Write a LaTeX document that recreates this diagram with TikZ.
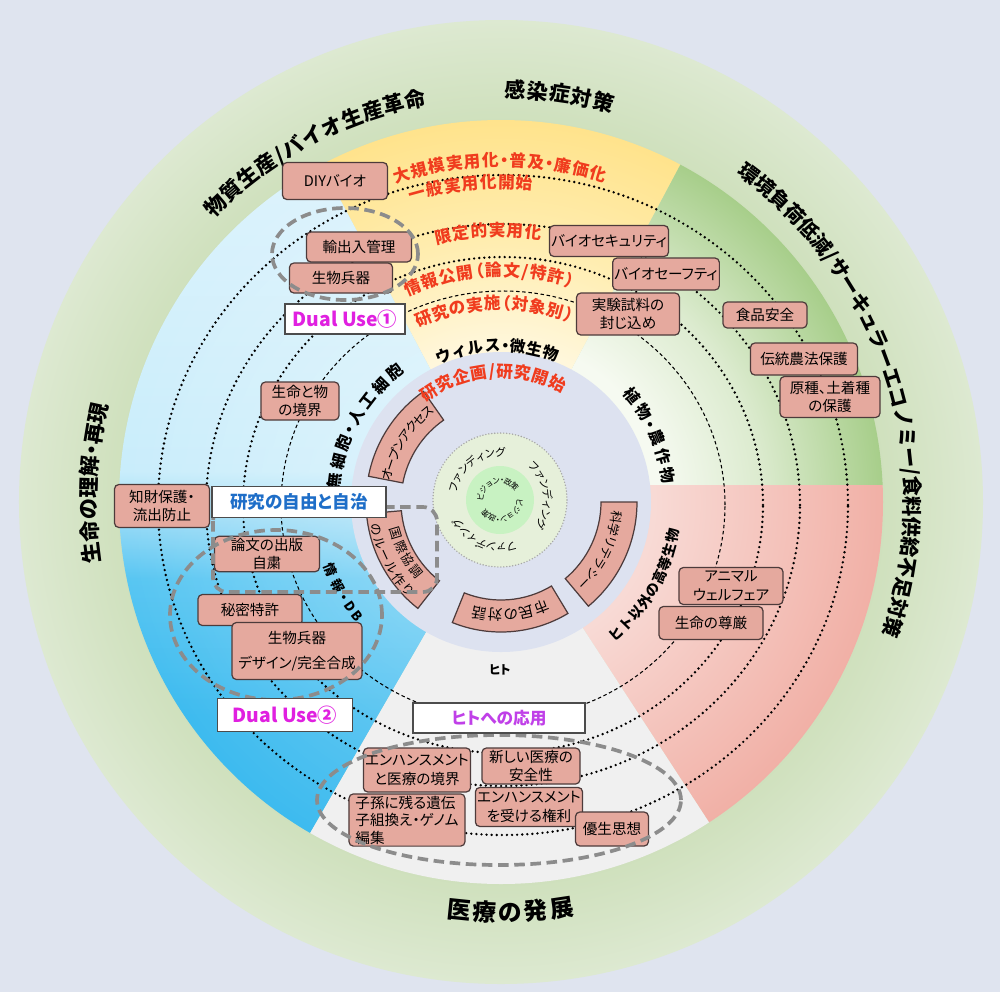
\documentclass[tikz,border=0pt]{standalone}
\usepackage{fontspec}
\setmainfont{Noto Sans CJK JP}[RawFeature=+palt]
\usetikzlibrary{fadings}
\definecolor{bg}{HTML}{DFE4EF}
\definecolor{ring1}{HTML}{CDDFBA}
\definecolor{ring2}{HTML}{DDE9D1}
\definecolor{yl1}{HTML}{FFF7DC}
\definecolor{yl2}{HTML}{FFEDB0}
\definecolor{yl3}{HTML}{FFE38C}
\definecolor{gr1}{HTML}{F6FAF1}
\definecolor{gr2}{HTML}{DCEBCF}
\definecolor{gr3}{HTML}{A7CE8A}
\definecolor{pk1}{HTML}{F8DAD5}
\definecolor{pk3}{HTML}{F1B0A6}
\definecolor{gy}{HTML}{F0F0F0}
\definecolor{bl1}{HTML}{3DBBEF}
\definecolor{bl2}{HTML}{58C6F2}
\definecolor{bl3}{HTML}{93D9F6}
\definecolor{bl4}{HTML}{C9EDFB}
\definecolor{bl5}{HTML}{E0F4FC}
\definecolor{lav}{HTML}{DDE2F0}
\definecolor{pgreen}{HTML}{E6F0DA}
\definecolor{bgreen}{HTML}{C8F2C2}
\definecolor{boxpink}{HTML}{E5A99E}
\definecolor{boxline}{HTML}{4D3B3B}
\definecolor{redtxt}{HTML}{F03C1E}
\definecolor{bluetxt}{HTML}{1E6EC8}
\definecolor{magtxt}{HTML}{E020E0}
\definecolor{purtxt}{HTML}{C040E8}
\definecolor{dashgray}{HTML}{8C8C8C}
\pgfdeclareradialshading{ringsh}{\pgfpoint{0bp}{0bp}}{color(0bp)=(ring1); color(19bp)=(ring1); color(25bp)=(ring2); color(50bp)=(ring2)}
\pgfdeclareradialshading{yelsh}{\pgfpoint{0bp}{0bp}}{color(0bp)=(yl1); color(10bp)=(yl1); color(17bp)=(yl2); color(25bp)=(yl3); color(50bp)=(yl3)}
\pgfdeclareradialshading{grnsh}{\pgfpoint{0bp}{0bp}}{color(0bp)=(gr1); color(10.5bp)=(gr1); color(17bp)=(gr2); color(25bp)=(gr3); color(50bp)=(gr3)}
\pgfdeclareradialshading{pnksh}{\pgfpoint{0bp}{0bp}}{color(0bp)=(pk1); color(10bp)=(pk1); color(25bp)=(pk3); color(50bp)=(pk3)}
\pgfdeclareverticalshading{bluesh}{100bp}{color(0bp)=(bl1); color(36bp)=(bl1); color(45bp)=(bl2); color(48.5bp)=(bl3); color(52bp)=(bl4); color(75bp)=(bl5); color(100bp)=(bl5)}
\tikzfading[name=cwfade, inner color=transparent!55, outer color=transparent!100]

% narrow characters get a smaller slot along the arc
\edef\arcNSlash{/}
\edef\arcNDot{・}
\edef\arcNParL{（}
\edef\arcNParR{）}
\edef\arcND{D}
\edef\arcNB{B}
\newcommand\arcweight{%
  \edef\arcTmp{\archar}%
  \def\arcW{1}%
  \ifx\arcTmp\arcNSlash\def\arcW{0.45}\fi
  \ifx\arcTmp\arcNDot\def\arcW{0.5}\fi
  \ifx\arcTmp\arcNParL\def\arcW{0.6}\fi
  \ifx\arcTmp\arcNParR\def\arcW{0.6}\fi
  \ifx\arcTmp\arcND\def\arcW{0.65}\fi
  \ifx\arcTmp\arcNB\def\arcW{0.65}\fi}
\newcount\arcid
% #1 style, #2 radius, #3 centre angle, #4 step, #5 dir (1 = clockwise tops out, -1 = ccw tops in), #6 list
\newcommand\arctext[6]{%
  \global\advance\arcid by 1
  \gdef\arcL{0}\gdef\arcPW{-1}%
  \foreach \archar in {#6}{\arcweight
    \pgfmathsetmacro\arcT{\arcPW<0 ? 0 : \arcL+(\arcPW+\arcW)/2}%
    \global\let\arcL\arcT \global\let\arcPW\arcW}%
  \gdef\arcS{0}\gdef\arcPW{-1}%
  \foreach \archar [count=\arci] in {#6}{\arcweight
    \pgfmathsetmacro\arcT{\arcPW<0 ? 0 : \arcS+(\arcPW+\arcW)/2}%
    \global\let\arcS\arcT \global\let\arcPW\arcW
    \pgfmathsetmacro\arcang{#3+#5*(\arcL/2-\arcS)*#4}%
    \pgfmathsetmacro\arcrot{\arcang-#5*90}%
    \node[#1,rotate=\arcrot] (t\the\arcid-\arci) at (\arcang:#2) {\archar};%
  }%
}
\newcommand\arcbox[4]{%
  \filldraw[arcboxst] ({#1-#2}:#3) arc[start angle={#1-#2}, end angle={#1+#2}, radius=#3]
    -- ({#1+#2}:#4) arc[start angle={#1+#2}, end angle={#1-#2}, radius=#4] -- cycle;}
\newcommand\pbox[7][]{\node[pboxst, minimum width={#5*0.02cm}, minimum height={#6*0.02cm}, #1] (#2) at (#3,#4) {#7};}

\begin{document}
\begin{tikzpicture}[x=0.02cm, y=0.02cm,
  chr/.style={inner sep=0pt, text height=0.86em, text depth=0.14em},
  outer/.style={chr, font=\fontsize{12}{12}\selectfont\bfseries},
  outerm/.style={chr, font=\fontsize{11.5}{11.5}\selectfont\bfseries},
  outerbig/.style={chr, font=\fontsize{13.5}{13.5}\selectfont\bfseries},
  redl/.style={chr, text=redtxt, font=\fontsize{9.5}{9.5}\selectfont\bfseries},
  blk/.style={chr, font=\fontsize{9}{9}\selectfont\bfseries},
  blks/.style={chr, font=\fontsize{8}{8}\selectfont\bfseries},
  blkxs/.style={chr, font=\fontsize{7.5}{7.5}\selectfont\bfseries},
  fund/.style={chr, font=\fontsize{6.2}{6.2}\selectfont},
  vis/.style={chr, font=\fontsize{4.5}{4.5}\selectfont},
  arct/.style={chr, font=\fontsize{8.3}{8.3}\selectfont},
  arcts/.style={chr, font=\fontsize{7.2}{7.2}\selectfont},
  arcboxst/.style={fill=boxpink, draw=boxline, line width=0.7pt},
  pboxst/.style={fill=boxpink, draw=boxline, line width=0.7pt, rounded corners=2.5pt,
    inner sep=1pt, align=center, font=\fontsize{8.3}{10.5}\selectfont},
  wbox/.style={fill=white, draw=black!70, line width=0.6pt, inner sep=1pt},
  dotline/.style={line width=1.5pt, dash pattern=on 0pt off 2.9pt, line cap=round},
  dashline/.style={line width=0.6pt, dash pattern=on 2pt off 1.5pt},
  graydash/.style={draw=dashgray, line width=2.1pt, dash pattern=on 6pt off 3.2pt}]
\useasboundingbox (-501,-490) rectangle (499,502);
\fill[bg] (-501,-490) rectangle (499,502);
% outer ring
\shade[shading=ringsh] (0,0) circle (482);
% sectors
\begin{scope}
  \clip (0,0) -- (62:800) arc[start angle=62, end angle=118, radius=800] -- cycle;
  \shade[shading=yelsh] (0,0) circle (382);
\end{scope}
\begin{scope}
  \clip (0,17) -- (800,17) -- (62:800) -- (0,0) -- cycle;
  \shade[shading=grnsh] (0,0) circle (382);
\end{scope}
\begin{scope}
  \clip (0,17) -- (800,17) -- (-57:800) -- (0,0) -- cycle;
  \shade[shading=pnksh] (0,0) circle (382);
\end{scope}
\fill[gy] (0,0) -- (-57:382) arc[start angle=-57, end angle=-120, radius=382] -- cycle;
\begin{scope}
  \clip (0,0) circle (382);
  \clip (0,0) -- (118:800) arc[start angle=118, end angle=240, radius=800] -- cycle;
  \shade[shading=bluesh] (-382,-382) rectangle (0,382);
  \fill[white, path fading=cwfade] (0,0) circle (382);
\end{scope}
% lavender disc
\fill[lav] (0,0) circle (150);
% dotted circles
\draw[dotline] (2,-3) ellipse [x radius=345, y radius=330];
\draw[dotline] (2,-3) ellipse [x radius=297, y radius=281];
\draw[dotline] (2,-3) ellipse [x radius=260, y radius=248];
\draw[dashline] (2,-3) ellipse [x radius=222, y radius=214];
% inner circles
\begin{scope}[shift={(-1,2)}]
  \fill[pgreen] (0,0) circle (67);
  \draw[black!35, line width=0.9pt, dash pattern=on 0pt off 1.7pt, line cap=round] (0,0) circle (67);
  \fill[bgreen] (0,0) circle (34);
  \arctext{fund}{50}{127}{12.4}{1}{フ,ァ,ン,デ,ィ,ン,グ}
  \arctext{fund}{50}{7}{12.4}{1}{フ,ァ,ン,デ,ィ,ン,グ}
  \arctext{fund}{50}{-113}{12.4}{1}{フ,ァ,ン,デ,ィ,ン,グ}
  \arctext{vis}{23}{107}{23.5}{1}{ビ,ジ,ョ,ン,・,政,策}
  \arctext{vis}{23}{-73}{23.5}{1}{ビ,ジ,ョ,ン,・,政,策}
\end{scope}
% curved boxes in the inner ring
\arcbox{147}{22}{100}{135}
\arcbox{208.5}{23.5}{100}{135}
\arcbox{274.5}{26.5}{98}{130}
\arcbox{-25}{25}{100}{136}
\arctext{arcts}{118}{148}{5.3}{1}{オ,ー,プ,ン,ア,ク,セ,ス}
\arctext{arct}{114}{275}{8}{1}{市,民,の,対,話}
\arctext{arcts}{118}{-26}{6.1}{1}{科,学,リ,テ,ラ,シ,ー}
\arctext{arcts}{108}{208}{7.5}{-1}{国,際,協,調}
\arctext{arcts}{126}{208}{6.2}{-1}{の,ル,ー,ル,作,り}
% outer ring labels
\arctext{outer}{410}{118}{3.06}{1}{物,質,生,産,/,バ,イ,オ,生,産,革,命}
\arctext{outer}{411}{81.8}{3.1}{1}{感,染,症,対,策}
\arctext{outerm}{410}{17.6}{2.84}{1}{環,境,負,荷,低,減,/,サ,ー,キ,ュ,ラ,ー,エ,コ,ノ,ミ,ー,/,食,料,供,給,不,足,対,策}
\arctext{outerbig}{413}{-88.7}{3.6}{-1}{医,療,の,発,展}
\arctext{outer}{411}{177.3}{3.0}{1}{生,命,の,理,解,・,再,現}
% red stage labels
\arctext{redl}{342}{90.2}{3.04}{1}{大,規,模,実,用,化,・,普,及,・,廉,価,化}
\arctext{redl}{320}{95.5}{3.25}{1}{一,般,実,用,化,開,始}
\arctext{redl}{272}{92.7}{3.8}{1}{限,定,的,実,用,化}
\arctext{redl}{232}{92.5}{4.5}{1}{情,報,公,開,（,論,文,/,特,許,）}
\arctext{redl}{199}{91.5}{5.1}{1}{研,究,の,実,施,（,対,象,別,）}
\arctext{redl}{131}{93.9}{7.9}{1}{研,究,企,画,/,研,究,開,始}
% black sector labels
\arctext{blk}{157}{91.5}{6.2}{1}{ウ,ィ,ル,ス,・,微,生,物}
\arctext{blk}{168}{151}{6.7}{1}{無,細,胞,・,人,工,細,胞}
\arctext{blk}{169}{24}{6.6}{1}{植,物,・,農,作,物}
\arctext{blks}{174}{-30}{4.7}{-1}{ヒ,ト,以,外,の,高,等,生,物}
\arctext{blkxs}{182}{210}{5.6}{-1}{情,報,・,D,B}
\node[chr, font=\fontsize{7}{7}\selectfont\bfseries] (hitolbl) at (-1,-166) {ヒト};
% rounded boxes
\pbox{diy}{-166}{321}{105}{37}{DIYバイオ}
\pbox{yushutsu}{-142}{255}{105}{30}{輸出入管理}
\pbox{heiki1}{-160}{224}{103}{30}{生物兵器}
\pbox{biosec}{108}{261}{119}{31}{バイオセキュリティ}
\pbox{biosaf}{165}{228}{103}{32}{バイオセーフティ}
\pbox{fuji}{127}{188}{103}{42}{実験試料の\\封じ込め}
\pbox{food}{264}{187}{84}{26}{食品安全}
\pbox{dento}{303}{143}{107}{32}{伝統農法保護}
\pbox{genshu}{329}{105}{100}{41}{原種、土着種\\の保護}
\pbox{seimei}{-201}{101}{78}{38}{生命と物\\の境界}
\pbox{chizai}{-339}{-4}{95}{43}{知財保護・\\流出防止}
\pbox{ronbun}{-234}{-52}{105}{32}{論文の出版\\自粛}
\pbox{himitsu}{-251}{-108}{104}{31}{秘密特許}
\pbox[font=\fontsize{8.3}{14.5}\selectfont]{heiki2}{-204}{-149}{130}{57}{生物兵器\\デザイン/完全合成}
\pbox{enh1}{-84}{-268}{105}{44}{エンハンスメント\\と医療の境界}
\pbox{shin}{30}{-264}{98}{36}{新しい医療の\\安全性}
\pbox[align=left, font=\fontsize{8.3}{10}\selectfont]{shison}{-94}{-318}{116}{50}{子孫に残る遺伝\\子組換え・ゲノム\\編集}
\pbox{enh2}{28}{-305}{105}{39}{エンハンスメント\\を受ける権利}
\pbox{yusei}{111}{-327}{73}{34}{優生思想}
\pbox{animal}{230}{-84}{104}{37}{アニマル\\ウェルフェア}
\pbox{songen}{210}{-121}{104}{33}{生命の尊厳}
% dashed groupings
\draw[graydash] (-156,248) ellipse [x radius=73, y radius=46];
\draw[graydash] (-225,-113) ellipse [x radius=106, y radius=85];
\draw[graydash, rounded corners=8pt] (-288,-5) rectangle (-64,-90);
\draw[graydash] (-2,-298) ellipse [x radius=182, y radius=65];
% white label boxes
\node[wbox, minimum width={174*0.02cm}, minimum height={31*0.02cm}, text=bluetxt, font=\fontsize{10}{10}\selectfont\bfseries] (jiyu) at (-202,0) {研究の自由と自治};
\node[wbox, minimum width={120*0.02cm}, minimum height={30*0.02cm}, text=magtxt, font=\fontsize{11}{11}\selectfont\bfseries] (du1) at (-156,183) {Dual Use①};
\node[wbox, minimum width={135*0.02cm}, minimum height={33*0.02cm}, text=magtxt, font=\fontsize{11}{11}\selectfont\bfseries] (du2) at (-216,-213) {Dual Use②};
\node[wbox, minimum width={172*0.02cm}, minimum height={30*0.02cm}, text=purtxt, font=\fontsize{9.5}{9.5}\selectfont\bfseries] (hitoapp) at (-2,-216) {ヒトへの応用};
\end{tikzpicture}
\end{document}
